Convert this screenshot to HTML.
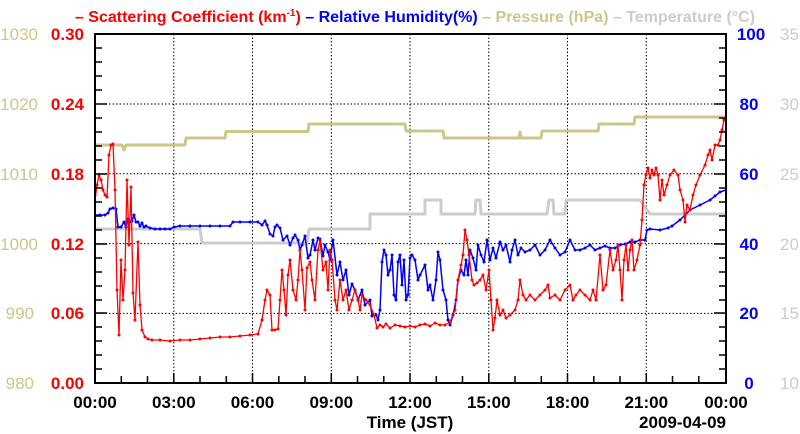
<!DOCTYPE html><html><head><style>body{margin:0;background:#fff}svg{display:block}text{font-family:"Liberation Sans",sans-serif}</style></head><body>
<svg width="800" height="434" xmlns="http://www.w3.org/2000/svg">
<defs><marker id="mr" markerWidth="4" markerHeight="4" refX="2" refY="2" markerUnits="userSpaceOnUse"><circle cx="2" cy="2" r="1.5" fill="#f00"/></marker><marker id="mb" markerWidth="4" markerHeight="4" refX="2" refY="2" markerUnits="userSpaceOnUse"><circle cx="2" cy="2" r="1.5" fill="#00f"/></marker></defs>
<text x="415" y="22" font-size="16" font-weight="bold" text-anchor="middle"><tspan fill="#f00">– Scattering Coefficient (km</tspan><tspan fill="#f00" font-size="10" dy="-6">-1</tspan><tspan fill="#f00" dy="6">)</tspan><tspan fill="#00f"> – Relative Humidity(%)</tspan><tspan fill="#cdc58a"> – Pressure (hPa)</tspan><tspan fill="#cccccc"> – Temperature (°C)</tspan></text>
<g stroke="#000" stroke-dasharray="1.5,2" stroke-width="1">
<path d="M173.8 34V383M252.5 34V383M331.3 34V383M410 34V383M488.8 34V383M567.5 34V383M646.3 34V383M95 104H726M95 173.8H726M95 243.6H726M95 313.4H726"/></g>
<g fill="none" stroke-linejoin="round">
<polyline stroke="#cccccc" stroke-width="3" points="95,229 200,229 202,243 307,243 309,229 370,229 370,214 425,214 425,200 441,200 441,214 475,214 476,200 480,200 481,214 547,214 549,200 553,200 554,214 565,214 566,200 640,200 650,214 726,214"/>
<polyline stroke="#cdc58a" stroke-width="3" points="95,145 122,145 124,150 126,145 185,145 186,138 225,138 226,131.5 308,131.5 309,124 405,124 406,131 443,131 444,138 519,138 520,132 521,138 541,138 542,131 598,131 599,124 634,124 635,117 726,117"/>
<polyline stroke="#00f" stroke-width="1.5" marker-mid="url(#mb)" points="95,215 100,215 105,215 108,213 110,209 113,208 116,209 118,227 121,227 124,222 126,227 128,219 130,222 132,221 134,215 136,222 138,222 140,226 142,223 144,227 146,226 150,228 155,229 160,229 165,229 170,229 174,227 180,226 190,226 200,226 210,226 220,226 230,226 233,222 240,222 250,222 258,222 262,225 265,221 267,225 270,234 273,236 275,227 277,225 280,228 283,240 287,236 290,245 293,238 295,235 298,240 300,250 302,245 305,236 308,258 310,255 313,240 315,250 318,238 320,239 323,256 325,245 328,252 330,260 333,240 337,275 340,262 343,280 346,270 349,295 352,284 355,290 358,300 362,290 365,305 370,300 372,316 376,315 378,320 380,310 382,262 384,250 386,255 388,275 390,270 392,255 394,295 396,300 398,262 400,255 402,285 404,260 406,300 408,295 410,258 412,255 415,260 418,280 420,275 425,265 428,290 430,285 433,300 436,280 438,252 440,260 443,290 446,300 448,320 450,325 453,315 456,300 458,280 461,270 464,275 466,260 468,275 470,250 473,258 476,270 478,245 481,255 484,262 487,240 490,260 493,248 496,258 500,242 503,250 506,245 510,262 512,250 515,240 518,255 521,248 525,252 530,250 535,245 540,255 545,250 550,240 555,248 560,255 565,252 570,240 575,250 580,250 585,248 590,245 595,250 600,248 605,246 610,248 615,248 620,245 625,244 630,242 635,242 640,240 645,240 647,230 650,229 660,230 668,228 672,226 680,220 690,210 700,205 710,200 715,196 720,192 726,190"/>
<polyline stroke="#f00" stroke-width="1.3" marker-mid="url(#mr)" points="95,200 97,185 99,175 101,180 103,190 105,195 107,197 109,155 111,145 113,144 115,190 117,290 119,335 121,260 123,300 125,270 127,180 129,245 131,187 133,293 135,320 138,242 140,305 142,330 145,337 148,339 152,340 160,340 170,341 180,340 190,340 200,339 210,338 220,337 230,337 240,336 250,335 258,334 262,320 265,300 267,290 270,295 272,330 275,330 278,329 280,300 282,270 284,290 286,315 288,275 290,260 293,290 296,300 298,280 300,250 302,270 305,310 307,268 310,262 312,280 315,300 318,250 320,240 323,270 326,262 328,290 330,250 332,260 335,300 337,310 340,280 343,300 346,290 349,310 352,300 355,290 358,300 360,310 362,295 366,300 370,305 374,315 377,328 380,325 383,327 386,324 390,328 395,325 400,326 405,327 410,326 415,327 420,325 425,324 430,326 435,323 440,325 445,325 450,322 455,310 458,280 461,265 463,255 465,230 467,240 469,255 472,280 474,285 477,283 480,280 483,275 486,290 489,270 491,300 493,330 495,318 497,300 500,315 503,310 506,318 510,315 515,310 518,300 520,280 523,295 526,300 530,295 535,300 540,295 545,290 548,285 550,298 555,295 560,300 565,290 570,285 573,300 576,295 580,290 585,295 590,300 593,290 596,300 600,255 603,290 606,285 610,250 613,270 616,260 618,245 620,270 622,300 624,260 626,245 628,270 630,250 632,240 634,270 637,260 640,245 642,220 644,185 646,175 648,168 650,178 652,170 654,175 656,168 658,175 660,200 662,180 664,195 667,185 670,175 674,170 678,175 680,190 683,200 685,222 687,205 690,210 693,195 696,185 700,175 705,165 708,155 710,150 712,160 715,145 718,145 720,140 722,130 724,120 726,116"/>
</g>
<g stroke="#000" stroke-width="1.5" fill="none">
<rect x="95" y="34" width="631" height="349" stroke-width="2"/>
<path d="M95 48h7M95 62h7M95 76h7M95 90h7M95 104h12M95 118h7M95 132h7M95 146h7M95 160h7M95 174h12M95 188h7M95 202h7M95 216h7M95 230h7M95 244h12M95 258h7M95 272h7M95 286h7M95 300h7M95 313h12M95 327h7M95 341h7M95 355h7M95 369h7"/>
<path d="M726 48h-7M726 62h-7M726 76h-7M726 90h-7M726 104h-12M726 118h-7M726 132h-7M726 146h-7M726 160h-7M726 174h-12M726 188h-7M726 202h-7M726 216h-7M726 230h-7M726 244h-12M726 258h-7M726 272h-7M726 286h-7M726 300h-7M726 313h-12M726 327h-7M726 341h-7M726 355h-7M726 369h-7"/>
<path d="M121.3 383v-7M147.5 383v-7M173.8 383v-10M200 383v-7M226.3 383v-7M252.5 383v-10M278.8 383v-7M305 383v-7M331.3 383v-10M357.5 383v-7M383.8 383v-7M410 383v-10M436.3 383v-7M462.5 383v-7M488.8 383v-10M515 383v-7M541.3 383v-7M567.5 383v-10M593.8 383v-7M620 383v-7M646.3 383v-10M672.5 383v-7M698.8 383v-7"/>
</g>
<g font-size="17" fill="#cdc58a" text-anchor="end"><text x="38" y="40">1030</text><text x="38" y="110">1020</text><text x="38" y="180">1010</text><text x="38" y="250">1000</text><text x="34" y="319">990</text><text x="34" y="389">980</text></g>
<g font-size="17" font-weight="bold" fill="#f00" text-anchor="end"><text x="84" y="40">0.30</text><text x="84" y="110">0.24</text><text x="84" y="180">0.18</text><text x="84" y="250">0.12</text><text x="84" y="319">0.06</text><text x="84" y="389">0.00</text></g>
<g font-size="17" font-weight="bold" fill="#00f" text-anchor="middle"><text x="751" y="40">100</text><text x="749" y="110">80</text><text x="749" y="180">60</text><text x="749" y="250">40</text><text x="749" y="319">20</text><text x="749" y="389">0</text></g>
<g font-size="17" fill="#cccccc" text-anchor="start"><text x="780" y="40">35</text><text x="780" y="110">30</text><text x="780" y="180">25</text><text x="780" y="250">20</text><text x="780" y="319">15</text><text x="780" y="389">10</text></g>
<g font-size="17" font-weight="bold" fill="#000" text-anchor="middle"><text x="95" y="408">00:00</text><text x="173.8" y="408">03:00</text><text x="252.5" y="408">06:00</text><text x="331.3" y="408">09:00</text><text x="410" y="408">12:00</text><text x="488.8" y="408">15:00</text><text x="567.5" y="408">18:00</text><text x="646.3" y="408">21:00</text><text x="726" y="408">00:00</text><text x="410" y="428">Time (JST)</text><text x="726" y="428" text-anchor="end">2009-04-09</text></g>
</svg></body></html>
